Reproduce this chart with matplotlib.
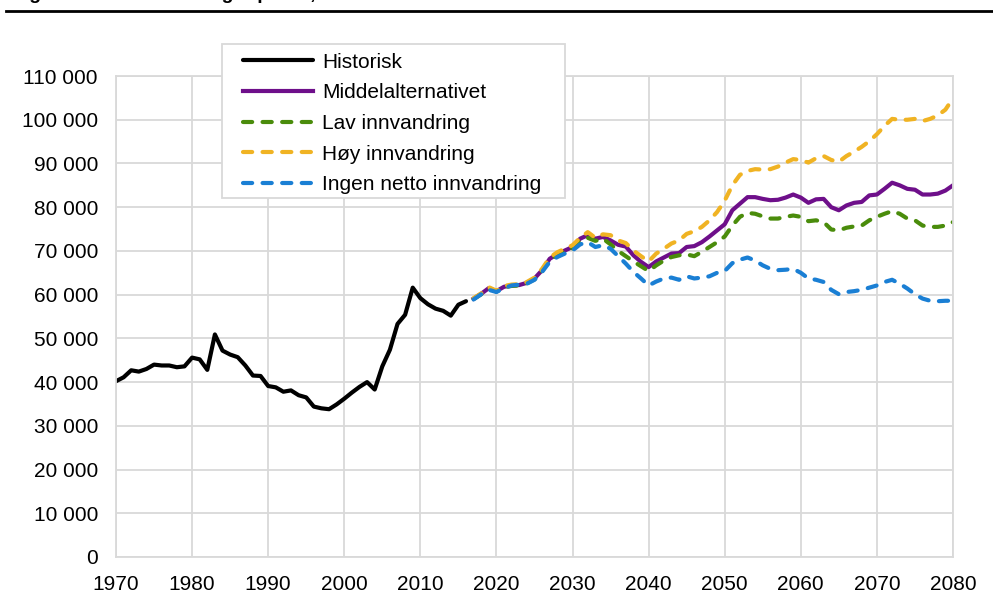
import matplotlib
matplotlib.use("Agg")
import matplotlib.pyplot as plt
from matplotlib.patches import Rectangle
from matplotlib.ticker import FuncFormatter, MultipleLocator

plt.rcParams["font.family"] = ["Liberation Sans", "DejaVu Sans"]

hist_years = list(range(1970, 2017))
historisk = [
    40200, 41100, 42700, 42400, 43000, 44000, 43800, 43800, 43400, 43600,
    45600, 45200, 42800, 50900, 47200, 46300, 45700, 43800, 41500, 41400,
    39100, 38800, 37800, 38100, 37000, 36500, 34400, 34000, 33800, 34900,
    36200, 37600, 38900, 40000, 38300, 43600, 47400, 53300, 55400, 61600,
    59200, 57800, 56800, 56300, 55200, 57700, 58500,
]

proj_years = list(range(2017, 2081))
middel = [
    59100, 60200, 61500, 60800, 61800, 62100, 62200, 62700, 63700, 65600,
    68200, 69300, 70100, 70900, 72800, 73600, 72800, 73200, 72400, 71400,
    71000, 69000, 67500, 66300, 67600, 68500, 69400, 69500, 70900, 71100,
    72000, 73300, 74700, 76100, 79300, 80800, 82300, 82300, 81900, 81600,
    81700, 82200, 82900, 82200, 81000, 81800, 81900, 80000, 79300, 80400,
    81000, 81200, 82700, 82900, 84200, 85600, 85000, 84200, 84000, 82900,
    82900, 83100, 83800, 85000,
]
lav = [
    59000, 60100, 61400, 60700, 61700, 62000, 62100, 62600, 63500, 65400,
    68000, 69000, 69800, 70600, 72400, 73000, 72300, 72800, 71500, 70000,
    68800, 67600, 66500, 65400, 66700, 67800, 68600, 69000, 69200, 68800,
    69800, 70900, 72000, 73300, 75800, 77800, 78700, 78500, 77900, 77400,
    77400, 77800, 78100, 77800, 76800, 77000, 76600, 74900, 74700, 75300,
    75600, 75800, 77000, 77800, 78500, 79100, 78500, 77400, 77000, 75800,
    75500, 75500, 75800, 76600,
]
hoy = [
    59200, 60300, 61700, 60900, 62000, 62300, 62400, 62900, 63900, 65900,
    68500, 69700, 70500, 71300, 73000, 74300, 73000, 73800, 73600, 72400,
    71800, 70100, 68800, 67600, 69400, 70500, 71700, 72400, 73900, 74500,
    75500, 77000, 78900, 81500, 85000, 87400, 88300, 88700, 88600, 88700,
    89300, 90200, 91000, 90800, 90200, 91200, 91700, 90800, 90400, 91700,
    92700, 93800, 95100, 96700, 98600, 100200, 100000, 100000, 100200, 99700,
    100200, 101000, 102300, 104900,
]
ingen = [
    58900, 60100, 61100, 60600, 61500, 62100, 62300, 62500, 63400, 65200,
    67500, 68600, 69400, 70100, 71500, 72000, 70900, 71300, 70500, 68800,
    67100, 65200, 63700, 62100, 63000, 63700, 63900, 63400, 64200, 63700,
    63900, 64200, 65000, 65400, 67200, 68000, 68500, 67800, 66700, 65900,
    65600, 65700, 65900, 65000, 63700, 63400, 62900, 61100, 60100, 60600,
    60800, 61100, 61600, 62100, 62900, 63400, 62500, 61400, 60100, 59100,
    58600, 58500, 58600, 58600,
]

GRID = "#D9D9D9"
LW = 3.0

fig = plt.figure(figsize=(9.93, 5.94), dpi=100)
ax = fig.add_axes([0.1168, 0.0623, 0.8429, 0.8097])

ax.plot(hist_years, historisk, color="black", lw=LW, solid_capstyle="round",
        solid_joinstyle="round", label="Historisk")
ax.plot(proj_years, middel, color="#6E0F8A", lw=LW, solid_joinstyle="round",
        label="Middelalternativet")
dash_kw = dict(lw=LW, linestyle=(0, (2.2, 2.5)), dash_capstyle="round")
ax.plot(proj_years, lav, color="#4A8C0B", label="Lav innvandring", **dash_kw)
ax.plot(proj_years, hoy, color="#F0B323", label="Høy innvandring", **dash_kw)
ax.plot(proj_years, ingen, color="#1A7FD4", label="Ingen netto innvandring", **dash_kw)

ax.set_xlim(1970, 2080)
ax.set_ylim(0, 110000)
ax.xaxis.set_major_locator(MultipleLocator(10))
ax.yaxis.set_major_locator(MultipleLocator(10000))
ax.yaxis.set_major_formatter(FuncFormatter(lambda v, p: f"{int(v):,}".replace(",", " ")))
ax.grid(True, color=GRID, lw=1.3)
ax.set_axisbelow(True)
for s in ax.spines.values():
    s.set_color(GRID)
    s.set_linewidth(1.3)
ax.tick_params(length=0, labelsize=15, colors="black")
ax.tick_params(axis="y", pad=13)
ax.tick_params(axis="x", pad=13)

# legend box drawn separately so the padding matches the original
fig.add_artist(Rectangle((0.2236, 0.6667), 0.3454, 0.2593, transform=fig.transFigure,
                         facecolor="white", edgecolor=GRID, lw=1.3, zorder=4))
leg = fig.legend(loc="upper left", bbox_to_anchor=(243 / 993, 0.9115), fontsize=15,
                 frameon=False, handlelength=3.35, handletextpad=0.43,
                 labelspacing=0.56, borderpad=0, borderaxespad=0)
leg.set_zorder(5)

# title bar at top (text mostly outside the crop, as in the source)
fig.text(0.012, 1.002, "Figur 3.1 Antall 63-åringer per år, 1970-2080",
         fontsize=14, fontweight="bold", va="baseline", ha="left")
fig.add_artist(plt.Line2D([0.006, 1.0], [0.981, 0.981], color="black", lw=2,
                          transform=fig.transFigure))

fig.savefig("out.png", dpi=100)
